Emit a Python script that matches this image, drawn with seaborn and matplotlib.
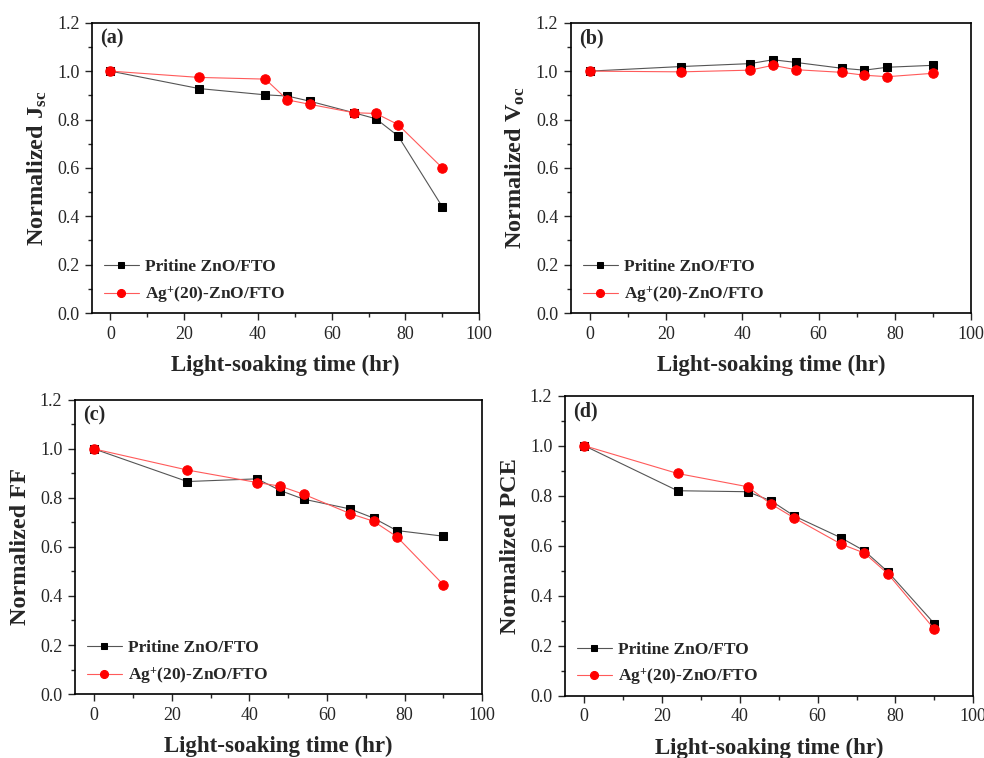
import matplotlib
matplotlib.use("Agg")
import matplotlib.pyplot as plt
import seaborn as sns
import pandas as pd
from matplotlib.ticker import MultipleLocator

sns.set_style("ticks")
plt.rcParams['font.family'] = ['Liberation Serif', 'DejaVu Serif']
plt.rcParams['mathtext.fontset'] = 'custom'
plt.rcParams['mathtext.rm'] = 'Liberation Serif'
plt.rcParams['mathtext.bf'] = 'Liberation Serif:bold'
plt.rcParams['mathtext.it'] = 'Liberation Serif:italic'

time_hr = [0, 24, 42, 48, 54, 66, 72, 78, 90]

jsc_pristine = [1.0, 0.928, 0.902, 0.897, 0.876, 0.828, 0.803, 0.732, 0.439]
jsc_ag = [1.0, 0.974, 0.967, 0.881, 0.863, 0.828, 0.825, 0.779, 0.600]

voc_pristine = [1.0, 1.019, 1.031, 1.047, 1.036, 1.012, 1.004, 1.016, 1.024]
voc_ag = [1.0, 0.997, 1.004, 1.024, 1.006, 0.995, 0.983, 0.977, 0.991]

ff_pristine = [1.0, 0.867, 0.878, 0.830, 0.795, 0.755, 0.718, 0.667, 0.644]
ff_ag = [1.0, 0.914, 0.863, 0.848, 0.815, 0.736, 0.705, 0.642, 0.446]

pce_pristine = [1.0, 0.820, 0.816, 0.780, 0.719, 0.632, 0.580, 0.497, 0.289]
pce_ag = [1.0, 0.889, 0.836, 0.767, 0.711, 0.607, 0.571, 0.489, 0.267]

series_names = ["Pritine ZnO/FTO", r"Ag$^{\mathbf{+}}$(20)-ZnO/FTO"]
panel_tags = ["(a)", "(b)", "(c)", "(d)"]
ylabels = [r"Normalized J$_{\mathbf{sc}}$", r"Normalized V$_{\mathbf{oc}}$",
           "Normalized FF", "Normalized PCE"]
xlabel = "Light-soaking time (hr)"
xtick_vals = [0, 20, 40, 60, 80, 100]
ytick_vals = [0.0, 0.2, 0.4, 0.6, 0.8, 1.0, 1.2]

panels = [(jsc_pristine, jsc_ag), (voc_pristine, voc_ag),
          (ff_pristine, ff_ag), (pce_pristine, pce_ag)]

positions = [
    [0.0935, 0.587, 0.3935, 0.383],
    [0.580, 0.587, 0.407, 0.383],
    [0.076, 0.0844, 0.414, 0.388],
    [0.574, 0.082, 0.415, 0.396],
]

fig = plt.figure(figsize=(9.84, 7.58), dpi=100)

for i, ((yp, ya), pos) in enumerate(zip(panels, positions)):
    ax = fig.add_axes(pos)
    df_p = pd.DataFrame({"t": time_hr, "v": yp})
    df_a = pd.DataFrame({"t": time_hr, "v": ya})
    sns.lineplot(data=df_p, x="t", y="v", ax=ax, color="#555555", lw=0.8,
                 marker="s", markersize=5.5, markerfacecolor="black",
                 markeredgecolor="black", label=series_names[0])
    sns.lineplot(data=df_a, x="t", y="v", ax=ax, color="#ff5a5a", lw=0.8,
                 marker="o", markersize=6.8, markerfacecolor="red",
                 markeredgecolor="red", label=series_names[1])
    ax.set_xlim(-5, 100)
    ax.set_ylim(0, 1.2)
    ax.set_xticks(xtick_vals)
    ax.set_xticklabels([str(v) for v in xtick_vals])
    ax.set_yticks(ytick_vals)
    ax.set_yticklabels([f"{v:.1f}" for v in ytick_vals])
    ax.xaxis.set_minor_locator(MultipleLocator(10))
    ax.yaxis.set_minor_locator(MultipleLocator(0.1))
    ax.tick_params(which="major", direction="out", length=5, width=1,
                   labelsize=13, top=False, right=False, pad=4)
    ax.tick_params(which="minor", direction="out", length=3, width=1,
                   top=False, right=False)
    for s in ax.spines.values():
        s.set_linewidth(1.2)
        s.set_color("black")
    ax.set_xlabel(xlabel, fontsize=16.5, fontweight="bold", labelpad=9)
    ax.set_ylabel(ylabels[i], fontsize=17.5, fontweight="bold", labelpad=6)
    ax.text(0.02, 0.98, panel_tags[i], transform=ax.transAxes,
            fontsize=14.5, fontweight="bold", va="top", ha="left")
    ax.legend(loc="lower left", frameon=False,
              handlelength=2.0, handletextpad=0.35, labelspacing=0.5,
              markerscale=0.85, borderaxespad=0.0,
              prop={"weight": "bold", "size": 12.5},
              bbox_to_anchor=(0.013, 0.005))

fig.savefig("out.png", dpi=100)
